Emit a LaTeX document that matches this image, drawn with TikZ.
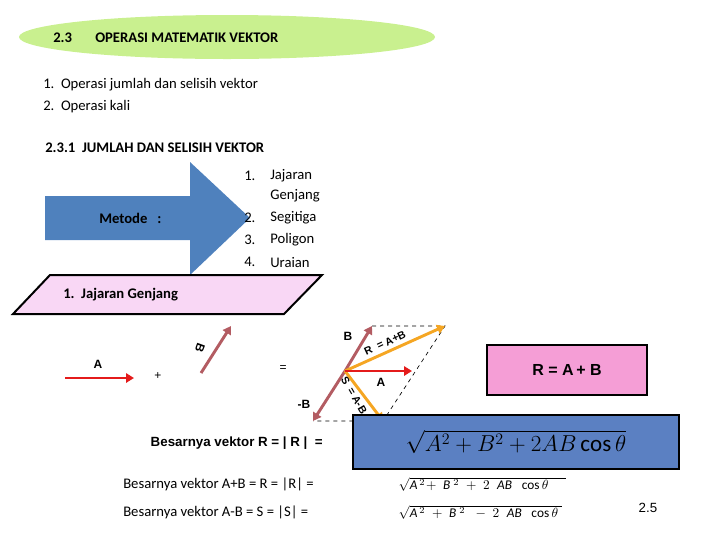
\documentclass[tikz,border=0pt]{standalone}
\usepackage{fontspec}
\setmainfont{Carlito}
\newfontfamily\arialfont{Liberation Sans}
\usepackage{amsmath}
\usetikzlibrary{arrows.meta,calc}
\definecolor{hdrgreen}{HTML}{C9F08F}
\definecolor{arrowblue}{HTML}{4F81BD}
\definecolor{boxblue}{HTML}{5B80C2}
\definecolor{pinkbox}{HTML}{F9D7F5}
\definecolor{pinkR}{HTML}{F59ED6}
\definecolor{vecred}{HTML}{E41B1B}
\definecolor{vecbrown}{HTML}{B35C62}
\definecolor{vecorange}{HTML}{F5A623}
\tikzset{
    txt/.style={anchor=west,inner sep=0.75pt,font=\fontsize{11}{13}\selectfont},
    bold/.style={txt,font=\fontsize{11}{13}\selectfont\bfseries},
    vec/.style={line width=2.2pt,-{Triangle[length=6pt,width=7pt]}},
    dashline/.style={dashed,line width=0.5pt}
}
\begin{document}
\begin{tikzpicture}[x=0.75pt,y=0.75pt,yscale=-1,xscale=1]
        \useasboundingbox (0,0) rectangle (720,540);
        %Header ellipse
        \draw [draw=none,fill=hdrgreen] (227,37) ellipse (208 and 22);
        \node (nr) [bold] at (52,38) {2.3};
        \node (judul) [bold] at (94,38) {OPERASI MATEMATIK VEKTOR};
        % list
        \node (l1) [txt] at (42,85) {1.\ \ Operasi jumlah dan selisih vektor};
        \node (l2) [txt] at (42,107) {2.\ \ Operasi kali};
        \node (sub) [bold] at (44,148) {2.3.1\ \ JUMLAH DAN SELISIH VEKTOR};
        %Blue arrow
        \fill [arrowblue] (45,196) -- (190,196) -- (190,162) -- (250,218) -- (190,275) -- (190,240) -- (45,240) -- cycle;
        \node (metode) [bold] at (98,218) {Metode\ \ \ :};
        \foreach \n/\t/\y in {1./Jajaran/176, /Genjang/196, 2./Segitiga/218, 3./Poligon/240, 4./Uraian/262}{
            \node [txt] at (243,\y) {\n};
            \node [txt] at (269,\y) {\t};
        }
        %Parallelogram
        \draw [line width=1.5pt,fill=pinkbox] (50,275) -- (322,275) -- (284,314) -- (13,314) -- cycle;
        \node (jg) [bold] at (62,295) {1.\ \ Jajaran Genjang};
        % left vectors
        \coordinate (a1) at (65,378); \coordinate (a2) at (134,378);
        \draw [vec,vecred] (a1) -- (a2);
        \node (lA) [font=\bfseries\arialfont\small] at (98,364) {A};
        \node (plus) [font=\arialfont\small] at (158,376) {+};
        \coordinate (b1) at (201,373); \coordinate (b2) at (231,326);
        \draw [vec,vecbrown] (b1) -- (b2);
        \node (lB) [font=\bfseries\arialfont\small,rotate=-110] at (200,348) {B};
        \node (eq) [font=\arialfont\small] at (283,369) {=};
        % parallelogram construction
        \coordinate (O) at (345,371);
        \coordinate (Bt) at (372,326);
        \coordinate (Bn) at (313,421);
        \coordinate (At) at (412,371);
        \coordinate (Rt) at (445,326);
        \coordinate (St) at (383,421);
        \draw [dashline] (Bt) -- (Rt) -- (St) -- (Bn);
        \draw [vec,vecbrown] (O) -- (Bt);
        \draw [vec,vecbrown] (O) -- (Bn);
        \draw [vec,vecorange] (O) -- (Rt);
        \draw [vec,vecorange] (O) -- (St);
        \draw [vec,vecred] (O) -- (At);
        \node (lB2) [font=\bfseries\arialfont\small] at (348,336) {B};
        \node (lBn) [font=\bfseries\arialfont\small] at (304,404) {-B};
        \node (lA2) [font=\bfseries\arialfont\small] at (381,382) {A};
        \node (lR) [font=\bfseries\arialfont\footnotesize,rotate=25] at (385,343) {R\ \ = A+B};
        \node (lS) [font=\bfseries\arialfont\footnotesize,rotate=-60] at (354,395) {S\ \ = A-B};
        % boxes
        \node (rbox) [draw,line width=1.5pt,fill=pinkR,minimum width=120,minimum height=37,font=\bfseries\arialfont\large] at (567,370) {R\ =\ A\,+\ B};
        \node (fbox) [draw,line width=1.5pt,fill=boxblue,minimum width=245,minimum height=40,inner sep=0pt] at (516,442) {\LARGE$\sqrt{A^2+B^2+2AB\cos\theta}$};
        \node (besar) [font=\bfseries\arialfont,anchor=west] at (146,443) {Besarnya vektor R = | R |\ \ =};
        \node (s1) [txt] at (122,484) {Besarnya vektor A+B = R = |R| =};
        \node (s2) [txt] at (122,512) {Besarnya vektor A-B = S = |S| =};
        \node (f1) [anchor=west,font=\arialfont] at (394,484) {$\sqrt{\mathit{A}^{\,2}\!+\ \mathit{B}^{\;2}\ +\ 2\ \ \mathit{AB}\ \ \cos\theta\quad\;}$};
        \node (f2) [anchor=west,font=\arialfont] at (394,512) {$\sqrt{\mathit{A}^{\,2}\ +\ \mathit{B}^{\;2}\ \ -\ 2\ \ \mathit{AB}\ \ \cos\theta\;}$};
        \node (num) [font=\arialfont] at (648,508) {2.5};
\end{tikzpicture}
\end{document}
